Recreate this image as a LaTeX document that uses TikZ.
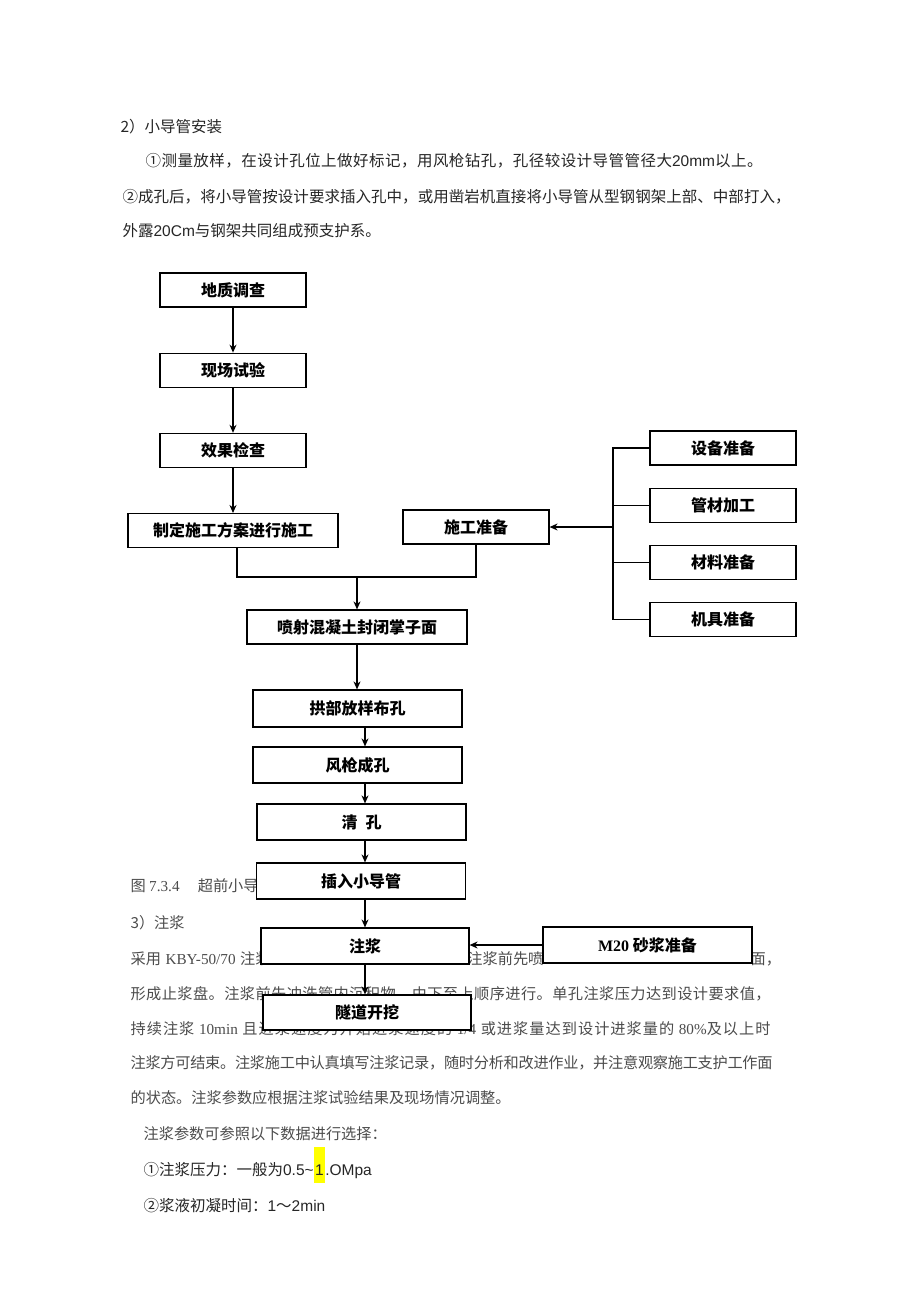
\documentclass[tikz,border=0pt]{standalone}
\usepackage{fontspec}
\setmainfont{Noto Sans CJK SC}
\newfontfamily\latser{Liberation Serif}
\newfontfamily\latsans{Liberation Sans}
\usepackage{xcolor}
\usetikzlibrary{arrows.meta, positioning}
% stretchable glue between CJK characters, for the justified lines
\XeTeXinterchartokenstate=1
\newXeTeXintercharclass\cjkcls
\count255="3000
\loop
  \XeTeXcharclass\count255=\cjkcls
  \ifnum\count255<"9FFF \advance\count255 by 1 \repeat
\count255="FF00
\loop
  \XeTeXcharclass\count255=\cjkcls
  \ifnum\count255<"FFEF \advance\count255 by 1 \repeat
\XeTeXcharclass"2460=\cjkcls
\XeTeXcharclass"2461=\cjkcls
\XeTeXinterchartoks\cjkcls\cjkcls={\hskip0pt plus 3pt minus 0.6pt\relax}
\definecolor{hlyellow}{RGB}{255,255,0}
\newcommand{\jline}[2]{\makebox[#1][s]{#2}}
\newcommand{\hlmark}[1]{{\setlength{\fboxsep}{0pt}\colorbox{hlyellow}{\kern1.5pt\rule[-7.5pt]{0pt}{36pt}#1\kern1.5pt}}}
\newcommand{\latgap}{\kern0.3em}

\begin{document}
\begin{tikzpicture}[x=1pt, y=-1pt, line width=1.2pt,
    box/.style={draw, fill=white, minimum width=146pt, minimum height=34pt, inner sep=0pt,
      font=\bfseries\fontsize{16}{18}\selectfont},
    wbox/.style={box, minimum width=209pt, minimum height=36pt},
    arr/.style={-{Stealth[length=8pt, width=7pt]}},
    txt/.style={anchor=base west, inner sep=0pt, text=black!85, font=\fontsize{15.5}{18}\selectfont},
    ptxt/.style={txt, text=black!70, font=\fontsize{15.2}{18}\selectfont}]
  \fill[white] (0,0) rectangle (920,1301);
  \useasboundingbox (0,0) rectangle (920,1301);

  % page text
  \node[txt] (sec2) at (120,132) {2）小导管安装};
  \node[txt] (item1) at (145,166) {\jline{617pt}{①测量放样，在设计孔位上做好标记，用风枪钻孔，孔径较设计导管管径大{\latsans 20mm}以上。}};
  \node[txt] (item2) at (122,202) {\jline{668pt}{②成孔后，将小导管按设计要求插入孔中，或用凿岩机直接将小导管从型钢钢架上部、中部打入，}};
  \node[txt] (item2b) at (122,236) {外露{\latsans 20Cm}与钢架共同组成预支护系。};

  \node[ptxt] (cap) at (130,891) {图 {\latser 7.3.4}\hspace{1.2em}超前小导};
  \node[ptxt] (sec3) at (130,928) {3）注浆};
  \node[ptxt] (p1a) at (130,964) {采用\latgap{\latser KBY-50/70}\latgap 注浆};
  \node[ptxt, anchor=base east] (p1b) at (544,964) {注浆前先喷};
  \node[ptxt] (p1c) at (750,964) {面，};
  \node[ptxt] (p2) at (130,999) {\jline{640pt}{形成止浆盘。注浆前先冲洗管内沉积物，由下至上顺序进行。单孔注浆压力达到设计要求值，}};
  \node[ptxt] (p3) at (130,1034) {\jline{640pt}{持续注浆\latgap{\latser 10min}\latgap 且进浆速度为开始进浆速度的\latgap{\latser 1/4}\latgap 或进浆量达到设计进浆量的\latgap{\latser 80\%}及以上时}};
  \node[ptxt] (p4) at (130,1068) {\jline{642pt}{注浆方可结束。注浆施工中认真填写注浆记录，随时分析和改进作业，并注意观察施工支护工作面}};
  \node[ptxt] (p5) at (130,1103) {的状态。注浆参数应根据注浆试验结果及现场情况调整。};
  \node[ptxt] (p6) at (143,1139) {注浆参数可参照以下数据进行选择：};
  \node[txt] (g1) at (143,1175) {①注浆压力：一般为{\latsans 0.5\textasciitilde}\hlmark{\latsans 1}{\latsans .OMpa}};
  \node[txt] (g2) at (143,1211) {②浆液初凝时间：{\latsans 1}～{\latsans 2min}};

  % flow chart
  \node[box] (geo) at (233,290) {地质调查};
  \node[box, below=45pt of geo] (field) {现场试验};
  \node[box, below=45pt of field] (check) {效果检查};
  \node[box, minimum width=210pt, below=45pt of check] (plan) {制定施工方案进行施工};
  \node[box] (prep) at (476,527) {施工准备};
  \node[box] (equip) at (723,448) {设备准备};
  \node[box, below=22pt of equip] (pipe) {管材加工};
  \node[box, below=22pt of pipe] (mat) {材料准备};
  \node[box, below=22pt of mat] (tool) {机具准备};
  \node[box, minimum width=220pt] (shot) at (357,627) {喷射混凝土封闭掌子面};
  \node[wbox, minimum height=37pt] (arch) at (357.5,708.5) {拱部放样布孔};
  \node[wbox] (drill) at (357.5,765) {风枪成孔};
  \node[wbox] (clean) at (361.5,822) {清\hspace{0.5em}孔};
  \node[wbox] (insert) at (361,881) {插入小导管};
  \node[wbox, minimum width=208pt] (grout) at (365,946) {注浆};
  \node[wbox] (mortar) at (647.5,945) {{\latser\bfseries M20} 砂浆准备};
  \node[wbox, minimum width=208pt, minimum height=35pt] (dig) at (367,1012.5) {隧道开挖};

  \draw[arr] (geo) -- (field);
  \draw[arr] (field) -- (check);
  \draw[arr] (check) -- (plan);
  \coordinate (join) at (357,577);
  \draw ([xshift=4pt]plan.south) |- (join) -| (prep.south);
  \draw[arr] (join) -- (shot);
  \coordinate (bus) at (613,527);
  \draw (equip.west) -| (bus) |- (tool.west);
  \draw (pipe.west) -- (pipe.west -| bus);
  \draw (mat.west) -- (mat.west -| bus);
  \draw[arr] (bus) -- (prep.east);
  \draw[arr] (shot) -- (shot.south |- arch.north);
  \foreach \a/\b in {arch/drill, drill/clean, clean/insert, insert/grout, grout/dig}
    \draw[arr] (\a.south -| grout) -- (\b.north -| grout);
  \draw[arr] (mortar.west) -- (mortar.west -| grout.east);
\end{tikzpicture}
\end{document}
